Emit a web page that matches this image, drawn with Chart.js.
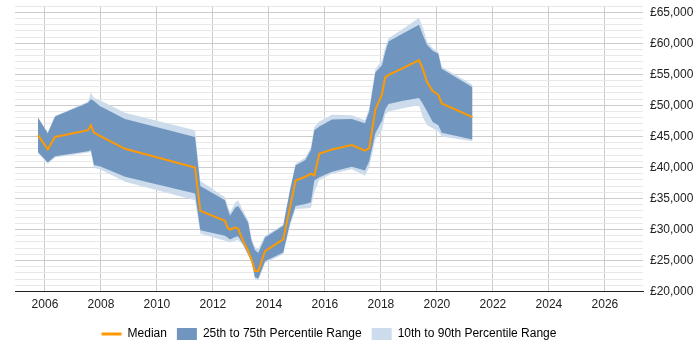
<!DOCTYPE html>
<html>
<head>
<meta charset="utf-8">
<script src="https://cdn.jsdelivr.net/npm/chart.js@4"></script>
<style>
  body { margin: 0; background: #fff; }
  #wrap { width: 700px; height: 350px; position: relative; }
</style>
</head>
<body>
<div id="wrap"><canvas id="salaryChart"></canvas></div>
<script>
const years = [2005.75, 2006.1, 2006.36, 2007.54, 2007.64, 2007.75, 2007.96, 2008.86, 2011.36, 2011.55,
  2012.43, 2012.52, 2012.61, 2012.79, 2012.9, 2013.08, 2013.26, 2013.38, 2013.5, 2013.62,
  2013.86, 2014.51, 2014.75, 2014.95, 2015.3, 2015.5, 2015.62, 2015.8, 2016.25, 2016.96,
  2017.43, 2017.58, 2017.8, 2018.04, 2018.15, 2018.27, 2018.75, 2019.36, 2019.5, 2019.65,
  2019.85, 2020.05, 2020.17, 2021.27];

const p10 = [42300, 40600, 41600, 42400, 42500, 39900, 39700, 37700, 34700, 29300,
  28200, 28000, 27900, 28200, 28300, 27500, 25700, 24700, 22000, 21800,
  24600, 26000, 30500, 33300, 33400, 33500, 36000, 38000, 39000, 39700,
  38700, 40000, 44500, 46000, 48500, 49000, 49500, 50000, 48000, 46800,
  46300, 45800, 45000, 44200];

const p25 = [42500, 40800, 41800, 42600, 42800, 40400, 40200, 38500, 35800, 29900,
  29000, 28700, 28400, 28800, 28900, 27600, 26000, 24900, 22300, 22100,
  24900, 26300, 31000, 33800, 34100, 34400, 37900, 38400, 39300, 40100,
  39500, 41000, 45500, 47500, 49300, 50200, 50700, 51200, 50200, 49000,
  47300, 46800, 45600, 44500];

const median = [45200, 42900, 44900, 46000, 46800, 45600, 45100, 43000, 40000, 33000,
  31400, 30300, 30000, 30300, 30100, 28100, 26500, 25100, 23300, 23300,
  26500, 28400, 33500, 37900, 38500, 39000, 38700, 42200, 42900, 43600,
  42700, 43100, 49300, 51800, 54500, 54900, 55900, 57300, 55800, 53700,
  52300, 51700, 50300, 48100];

const p75 = [48000, 45500, 48200, 50400, 51000, 50700, 49900, 47800, 44900, 37000,
  34700, 33400, 32200, 33500, 33800, 32500, 31100, 28100, 26700, 26200,
  28700, 30600, 36300, 40300, 41200, 42800, 46000, 46600, 47700, 47800,
  47100, 49000, 55300, 56500, 58500, 60300, 61500, 63000, 61300, 59700,
  58800, 58300, 55900, 52900];

const p90 = [48100, 45600, 48300, 50600, 52100, 51200, 50800, 48800, 46000, 37800,
  35200, 33900, 32700, 34300, 34700, 33000, 31500, 28500, 27200, 26900,
  29000, 30800, 36500, 40600, 41600, 43300, 46500, 47400, 48500, 48400,
  47600, 49500, 55800, 57300, 59300, 60800, 62200, 64100, 62500, 60300,
  59200, 58600, 56200, 53300];

const xTickYears = [2006, 2008, 2010, 2012, 2014, 2016, 2018, 2020, 2022, 2024, 2026];
const yLabelValues = [20000, 25000, 30000, 35000, 40000, 45000, 50000, 55000, 60000, 65000];

function points(values) {
  return years.map((x, i) => ({ x: x, y: values[i] }));
}

const ORANGE = '#ff9900';
const DARK = '#7096bf';
const LIGHT = '#cddcec';
const FONT = { family: 'Liberation Sans, Arial, sans-serif', size: 12 };

// centre the legend under the plot area rather than the whole canvas
const legendUnderPlot = {
  id: 'legendUnderPlot',
  afterLayout(chart) {
    const lg = chart.legend;
    if (!lg) return;
    const shift = ((chart.chartArea.left + chart.chartArea.right) - (lg.left + lg.right)) / 2;
    lg.left += shift;
    lg.right += shift;
  }
};

window.addEventListener('DOMContentLoaded', () => {
  const ctx = document.getElementById('salaryChart').getContext('2d');

  new Chart(ctx, {
    type: 'line',
    data: {
      datasets: [
        { label: 'Median', data: points(median), borderColor: ORANGE, borderWidth: 2, fill: false },
        { label: '25th to 75th Percentile Range', data: points(p75), borderWidth: 0, borderColor: DARK, backgroundColor: DARK, fill: '+1' },
        { label: 'p25', data: points(p25), borderWidth: 0, borderColor: DARK, fill: false },
        { label: '10th to 90th Percentile Range', data: points(p90), borderWidth: 0, borderColor: LIGHT, backgroundColor: LIGHT, fill: '+1' },
        { label: 'p10', data: points(p10), borderWidth: 0, borderColor: LIGHT, fill: false }
      ]
    },
    plugins: [legendUnderPlot],
    options: {
      responsive: true,
      maintainAspectRatio: false,
      animation: false,
      elements: { point: { radius: 0 }, line: { tension: 0 } },
      layout: { padding: { left: 15, top: 6, right: 0, bottom: 0 } },
      plugins: {
        tooltip: { enabled: false },
        legend: {
          position: 'bottom',
          labels: {
            color: '#222',
            font: FONT,
            usePointStyle: true,
            pointStyleWidth: 20,
            boxHeight: 12,
            padding: 10,
            generateLabels: () => [
              { text: 'Median', pointStyle: 'line', strokeStyle: ORANGE, fillStyle: ORANGE, lineWidth: 3, datasetIndex: 0 },
              { text: '25th to 75th Percentile Range', pointStyle: 'rect', strokeStyle: DARK, fillStyle: DARK, lineWidth: 0, datasetIndex: 1 },
              { text: '10th to 90th Percentile Range', pointStyle: 'rect', strokeStyle: LIGHT, fillStyle: LIGHT, lineWidth: 0, datasetIndex: 3 }
            ]
          }
        }
      },
      scales: {
        x: {
          type: 'linear',
          min: 2004.93,
          max: 2027.36,
          afterBuildTicks: (scale) => { scale.ticks = xTickYears.map(v => ({ value: v })); },
          ticks: {
            color: '#222',
            font: FONT,
            padding: 6,
            maxRotation: 0,
            autoSkip: false,
            callback: (v) => String(v)
          },
          grid: { color: '#cccccc', drawTicks: false },
          border: { color: '#222', width: 1 }
        },
        y: {
          position: 'right',
          min: 20000,
          max: 66000,
          afterBuildTicks: (scale) => {
            const t = [];
            for (let v = 20000; v <= 66000; v += 1000) t.push({ value: v });
            scale.ticks = t;
          },
          afterFit: (scale) => {
            scale.width = 57;
            scale.paddingTop = 0;
            scale.paddingBottom = 0;
          },
          ticks: {
            color: '#222',
            font: FONT,
            padding: 7,
            autoSkip: false,
            callback: (v) => yLabelValues.includes(v) ? '£' + v.toLocaleString('en-GB') : ''
          },
          grid: {
            drawTicks: false,
            color: (c) => (c.tick && c.tick.value % 5000 === 0) ? '#cccccc' : '#e8e8e8'
          },
          border: { display: false }
        }
      }
    }
  });
});
</script>
</body>
</html>
